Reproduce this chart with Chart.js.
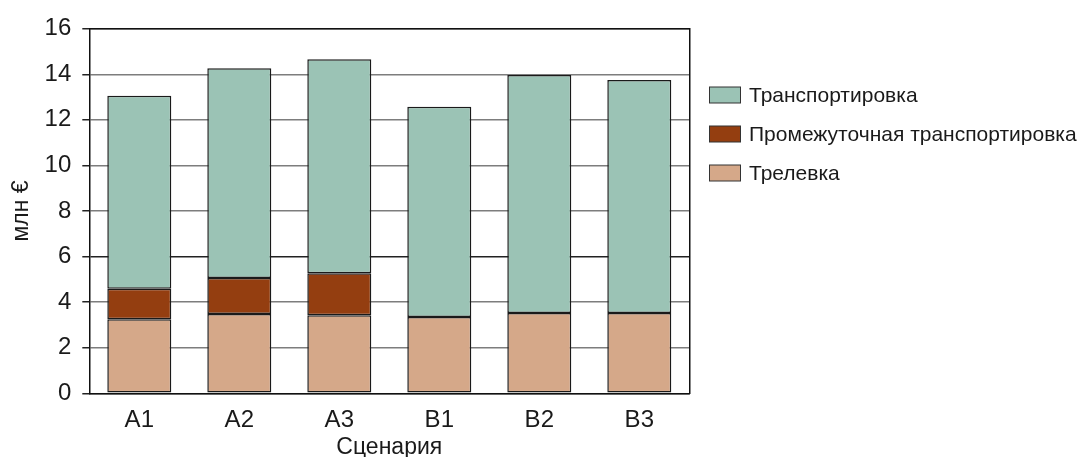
<!DOCTYPE html>
<html>
<head>
<meta charset="utf-8">
<script src="https://cdn.jsdelivr.net/npm/chart.js@4.4.1/dist/chart.umd.min.js"></script>
<style>
  html, body { margin: 0; padding: 0; background: #fff; }
  #wrap { width: 1084px; height: 457px; position: relative; }
</style>
</head>
<body>
<div id="wrap"><canvas id="c" width="1084" height="457"></canvas></div>
<script>
// Scenarios and cost components, million €
const scenarios = ['A1', 'A2', 'A3', 'B1', 'B2', 'B3'];
const skidding = [3.25, 3.48, 3.42, 3.35, 3.52, 3.52];          // Трелевка
const intermediate = [1.34, 1.58, 1.85, null, null, null];       // Промежуточная транспортировка
const transport = [8.47, 9.20, 9.39, 9.23, 10.45, 10.23];        // Транспортировка
const yTicks = [0, 2, 4, 6, 8, 10, 12, 14, 16];

const FONT = "'Liberation Sans', Arial, sans-serif";
const TEXT = '#1a1a1a';

// Legend drawn on the right, top series first
const sideLegend = {
  id: 'sideLegend',
  afterDraw(chart) {
    const ctx = chart.ctx;
    const items = chart.data.datasets.slice().reverse();
    ctx.save();
    ctx.font = '21px ' + FONT;
    ctx.textBaseline = 'middle';
    items.forEach((ds, i) => {
      const y = 95 + i * 39;
      ctx.fillStyle = ds.backgroundColor;
      ctx.fillRect(709.5, y - 8, 31, 16);
      ctx.strokeStyle = '#333';
      ctx.lineWidth = 1;
      ctx.strokeRect(709.5, y - 8, 31, 16);
      ctx.fillStyle = TEXT;
      ctx.fillText(ds.label, 749, y + 1);
    });
    ctx.restore();
  }
};

new Chart(document.getElementById('c'), {
  type: 'bar',
  data: {
    labels: scenarios,
    datasets: [
      { label: 'Трелевка', data: skidding, backgroundColor: '#D5A889' },
      { label: 'Промежуточная транспортировка', data: intermediate, backgroundColor: '#943E10' },
      { label: 'Транспортировка', data: transport, backgroundColor: '#9BC3B5' }
    ].map(d => Object.assign(d, {
      borderColor: '#1a1a1a',
      borderWidth: 1.5,
      borderSkipped: false,
      barPercentage: 0.64,
      categoryPercentage: 1
    }))
  },
  options: {
    responsive: false,
    animation: false,
    devicePixelRatio: 1,
    layout: { padding: { top: 28.7, right: 394.7, left: 0, bottom: 0 } },
    plugins: { legend: { display: false }, tooltip: { enabled: false } },
    scales: {
      x: {
        stacked: true,
        grid: { display: false, drawTicks: false },
        border: { display: true, color: '#111', width: 1.5 },
        ticks: { color: TEXT, font: { family: FONT, size: 24 }, padding: 13 },
        title: { display: true, text: 'Сценария', color: TEXT, font: { family: FONT, size: 23, lineHeight: 1 }, padding: { top: 0, bottom: -2 } },
        afterFit(s) { s.height = 63.7; }
      },
      y: {
        stacked: true,
        min: 0,
        max: 16,
        afterBuildTicks(s) { s.ticks = yTicks.map(v => ({ value: v })); },
        grid: {
          color: ctx => (ctx.tick && ctx.tick.value === 6) ? '#222' : '#7d7d7d',
          lineWidth: 1.5,
          tickLength: 7,
          tickColor: '#222'
        },
        border: { display: true, color: '#111', width: 1.5 },
        ticks: { color: TEXT, font: { family: FONT, size: 24 }, padding: 11 },
        title: { display: true, text: 'млн €', color: TEXT, font: { family: FONT, size: 23, lineHeight: 1 }, padding: { top: 10, bottom: 0 } },
        afterFit(s) { s.width = 89.3; }
      },
      yRight: {
        position: 'right',
        min: 0, max: 16,
        grid: { display: false, drawTicks: false },
        ticks: { display: false },
        border: { display: true, color: '#111', width: 1.5 },
        afterFit(s) { s.width = 0; }
      },
      xTop: {
        position: 'top',
        type: 'category',
        labels: scenarios,
        grid: { display: false, drawTicks: false },
        ticks: { display: false },
        border: { display: true, color: '#111', width: 1.5 },
        afterFit(s) { s.height = 0; }
      }
    }
  },
  plugins: [sideLegend]
});
</script>
</body>
</html>
